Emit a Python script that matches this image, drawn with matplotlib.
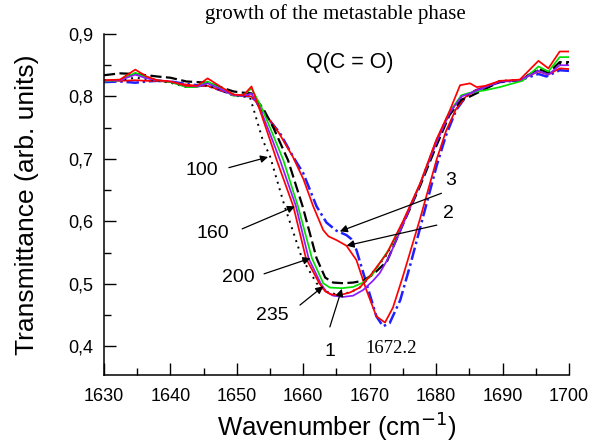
import matplotlib
matplotlib.use("Agg")
import matplotlib.pyplot as plt
from matplotlib.ticker import MultipleLocator, FuncFormatter

plt.rcParams['font.family'] = ['Liberation Sans', 'DejaVu Sans']

# curve "100" (dotted black)
wn_100 = [1630, 1632.4, 1634.7, 1636.4, 1638, 1640, 1642.4, 1644, 1645.6, 1647.5, 1649.5, 1651, 1652,
          1653.9, 1655, 1657.2, 1659.8, 1662, 1663.3, 1665, 1667, 1668.5, 1670, 1672.6, 1675, 1677.6,
          1680, 1682, 1683.8, 1685.1, 1687.4, 1689.6, 1692.6, 1695.4, 1696.9, 1698.6, 1700]
t_100 = [0.826, 0.826, 0.830, 0.828, 0.825, 0.822, 0.815, 0.816, 0.818, 0.811, 0.801, 0.800, 0.798,
         0.730, 0.704, 0.624, 0.541, 0.501, 0.488, 0.483, 0.486, 0.494, 0.512, 0.547, 0.598, 0.660,
         0.728, 0.774, 0.800, 0.805, 0.815, 0.825, 0.826, 0.842, 0.836, 0.852, 0.852]

# curve "160" (red)
wn_160 = [1630, 1632.4, 1634.7, 1636.4, 1638, 1640, 1642.4, 1644, 1645.6, 1647.5, 1649.5, 1651, 1652.2,
          1653.4, 1655, 1656, 1658.5, 1660.4, 1662.4, 1663.3, 1664.2, 1665.5, 1667, 1668.5, 1670,
          1672.6, 1675, 1677.6, 1680, 1682, 1683.6, 1685.1, 1686.1, 1687.4, 1689.6, 1692.6, 1695.4,
          1696.9, 1698.6, 1700]
t_160 = [0.826, 0.827, 0.843, 0.832, 0.826, 0.824, 0.817, 0.817, 0.829, 0.816, 0.803, 0.802, 0.816,
         0.780, 0.730, 0.698, 0.624, 0.541, 0.501, 0.488, 0.483, 0.482, 0.486, 0.494, 0.512,
         0.549, 0.600, 0.661, 0.730, 0.776, 0.818, 0.821, 0.815, 0.817, 0.825, 0.827, 0.857,
         0.845, 0.872, 0.872]

# curve "200" (green)
wn_200 = [1630, 1632.4, 1634.7, 1636.4, 1638, 1640, 1642.4, 1644, 1645.6, 1647.5, 1649.5, 1651, 1652.2,
          1653.6, 1655, 1657, 1659.2, 1661.3, 1663, 1664, 1665.8, 1667.5, 1669, 1670.5, 1671.5, 1673,
          1675, 1677.6, 1680, 1682, 1683.8, 1685.1, 1687.4, 1689.6, 1691.6, 1693, 1695.4, 1696.9,
          1698.6, 1700]
t_200 = [0.824, 0.826, 0.838, 0.830, 0.826, 0.823, 0.815, 0.815, 0.824, 0.813, 0.801, 0.802, 0.813,
         0.785, 0.750, 0.698, 0.624, 0.541, 0.501, 0.494, 0.493, 0.495, 0.502, 0.516, 0.533, 0.557,
         0.598, 0.660, 0.728, 0.775, 0.802, 0.806, 0.810, 0.815, 0.821, 0.825, 0.848, 0.840,
         0.863, 0.863]

# curve "235" (purple)
wn_235 = [1630, 1632.4, 1634.7, 1636.4, 1638, 1640, 1642.4, 1644, 1645.6, 1647.5, 1649.5, 1651, 1652.2,
          1653.5, 1655, 1656.5, 1658.9, 1660.8, 1662.6, 1663.5, 1664.5, 1666, 1667.5, 1669, 1670.5,
          1671.5, 1673, 1675, 1677.6, 1680, 1682, 1683.8, 1685.1, 1687.4, 1689.6, 1692.6, 1695.4,
          1696.9, 1698.6, 1700]
t_235 = [0.825, 0.826, 0.835, 0.829, 0.826, 0.824, 0.817, 0.816, 0.821, 0.812, 0.802, 0.801, 0.805,
         0.780, 0.740, 0.698, 0.624, 0.541, 0.501, 0.487, 0.481, 0.479, 0.481, 0.490, 0.505,
         0.517, 0.545, 0.595, 0.660, 0.725, 0.773, 0.800, 0.805, 0.815, 0.824, 0.826, 0.841,
         0.835, 0.850, 0.850]

# curve "1" (dashed black)
wn_1 = [1630, 1632.4, 1634.7, 1636.4, 1638, 1640, 1642.4, 1644, 1645.6, 1647.5, 1649.5, 1651, 1652.2,
        1654, 1655.5, 1657.7, 1659.9, 1662, 1663.3, 1664.5, 1666, 1667.5, 1669, 1670.5, 1672.6, 1675,
        1677.6, 1680, 1682, 1683.8, 1685.1, 1687.4, 1689.6, 1692.6, 1695.4, 1696.9, 1698.6, 1700]
t_1 = [0.834, 0.837, 0.836, 0.834, 0.832, 0.830, 0.824, 0.823, 0.822, 0.815, 0.808, 0.806, 0.805,
       0.780, 0.750, 0.698, 0.624, 0.541, 0.510, 0.502, 0.501, 0.502, 0.505, 0.515, 0.536, 0.595,
       0.657, 0.720, 0.770, 0.795, 0.800, 0.812, 0.824, 0.826, 0.844, 0.838, 0.855, 0.855]

# curve "2" (red, dip at 1672.2)
wn_2 = [1630, 1632.4, 1634.7, 1636.4, 1638, 1640, 1642.4, 1644, 1645.6, 1647.5, 1649.5, 1651, 1652.2,
        1653, 1654.3, 1656.3, 1658.4, 1660, 1661.5, 1663, 1663.8, 1665, 1666.5, 1668, 1669.5, 1671,
        1672.3, 1673.5, 1675, 1677.6, 1680.1, 1681.5, 1683, 1684.5, 1686, 1687.4, 1689.6, 1692.6,
        1695.4, 1696.9, 1698.6, 1700]
t_2 = [0.826, 0.825, 0.826, 0.825, 0.825, 0.823, 0.819, 0.817, 0.817, 0.810, 0.803, 0.801, 0.800,
       0.790, 0.772, 0.742, 0.704, 0.668, 0.624, 0.586, 0.576, 0.570, 0.561, 0.538, 0.490, 0.448,
       0.438, 0.462, 0.512, 0.605, 0.700, 0.745, 0.780, 0.800, 0.810, 0.816, 0.824, 0.826,
       0.840, 0.835, 0.845, 0.844]

# curve "3" (blue dash-dot)
wn_3 = [1630, 1632.4, 1634.7, 1636.4, 1638, 1640, 1642.4, 1644, 1645.6, 1647.5, 1649.5, 1651, 1652.2,
        1653, 1654.3, 1656.5, 1658.5, 1660, 1662, 1663.5, 1665, 1666.5, 1667.2, 1668, 1669.5, 1671,
        1672, 1673, 1674.6, 1676.1, 1678.1, 1680.1, 1681.5, 1683, 1684.5, 1686, 1687.4, 1689.6,
        1692.6, 1695.4, 1696.6, 1698.6, 1700]
t_3 = [0.823, 0.824, 0.822, 0.824, 0.825, 0.824, 0.820, 0.818, 0.817, 0.810, 0.803, 0.801, 0.800,
       0.790, 0.770, 0.741, 0.703, 0.677, 0.624, 0.598, 0.585, 0.578, 0.572, 0.554, 0.501, 0.448,
       0.432, 0.437, 0.474, 0.530, 0.610, 0.690, 0.738, 0.778, 0.800, 0.810, 0.815, 0.823,
       0.826, 0.836, 0.832, 0.842, 0.841]

fig = plt.figure(figsize=(5.93, 4.44), dpi=100)
ax = fig.add_axes([0.1754, 0.1554, 0.7841, 0.768])

ax.plot(wn_3, t_3, color='#1f1fff', lw=1.8, ls=(0, (5, 1.5, 1, 1.5)))
ax.plot(wn_2, t_2, color='#ff0000', lw=1.25)
ax.plot(wn_100, t_100, color='k', lw=1.4, ls=(0, (1, 2.5)))
ax.plot(wn_1, t_1, color='k', lw=1.6, ls=(0, (5, 2)))
ax.plot(wn_200, t_200, color='#00e000', lw=1.25)
ax.plot(wn_235, t_235, color='#8c1aff', lw=1.25)
ax.plot(wn_160, t_160, color='#ff0000', lw=1.25)

ax.set_xlim(1630, 1700)
ax.set_ylim(0.354, 0.9)
ax.spines['top'].set_visible(False)
ax.spines['right'].set_visible(False)
for s in ['left', 'bottom']:
    ax.spines[s].set_linewidth(1.1)

ax.xaxis.set_major_locator(MultipleLocator(10))
ax.xaxis.set_minor_locator(MultipleLocator(5))
ax.yaxis.set_major_locator(MultipleLocator(0.1))
ax.yaxis.set_minor_locator(MultipleLocator(0.05))
ax.yaxis.set_major_formatter(FuncFormatter(lambda v, p: f"{v:.1f}".replace('.', ',')))
ax.tick_params(which='both', direction='in', width=1.0, labelsize=13)
ax.tick_params(which='major', length=8.5)
ax.tick_params(which='minor', length=5)
ax.tick_params(axis='x', pad=9)
ax.tick_params(axis='y', pad=8)

ax.set_xlabel('Wavenumber (cm$^{-1}$)', fontsize=18.5)
ax.set_ylabel('Transmittance (arb. units)', fontsize=19)
ax.xaxis.set_label_coords(0.5, -0.1)
ax.yaxis.set_label_coords(-0.14, 0.5)

fig.text(0.565, 0.968, 'growth of the metastable phase', family='Liberation Serif',
         fontsize=15, ha='center', va='center')
ax.text(1667.0, 0.854, 'Q(C = O)', fontsize=15.5, ha='center', va='center')
ax.text(1673.3, 0.397, '1672.2', family='Liberation Serif', fontsize=13.5, ha='center', va='center')

arrow = dict(arrowstyle='-|>', color='k', lw=0.9, mutation_scale=11, shrinkA=0, shrinkB=0)
labels = [('100', (1644.7, 0.681), (1648.8, 0.686), (1654.7, 0.703)),
          ('160', (1646.4, 0.580), (1650.8, 0.588), (1658.75, 0.624)),
          ('200', (1650.2, 0.510), (1654.1, 0.516), (1661.1, 0.541)),
          ('235', (1655.4, 0.449), (1659.5, 0.466), (1663.0, 0.496)),
          ('1', (1664.0, 0.391), (1664.0, 0.431), (1665.8, 0.492)),
          ('3', (1682.2, 0.666), (1680.8, 0.645), (1665.5, 0.584)),
          ('2', (1681.8, 0.612), (1680.1, 0.594), (1666.5, 0.561))]
for txt, tpos, tail, head in labels:
    ax.text(tpos[0], tpos[1], txt, fontsize=14, ha='center', va='center')
    ax.annotate('', xy=head, xytext=tail, arrowprops=arrow)

fig.savefig('out.png', dpi=100)
